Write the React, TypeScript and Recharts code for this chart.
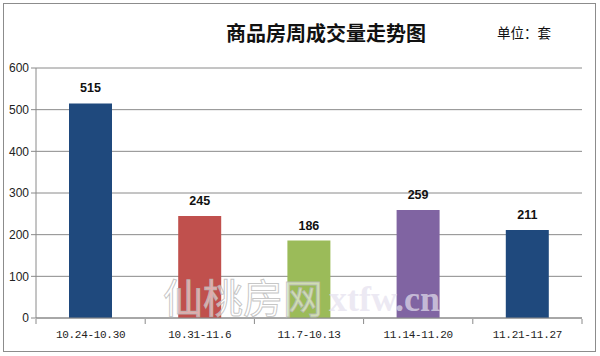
import React from 'react';
import { BarChart, Bar, XAxis, YAxis, CartesianGrid, Cell, LabelList } from 'recharts';

const categories = ['10.24-10.30', '10.31-11.6', '11.7-10.13', '11.14-11.20', '11.21-11.27'];
const volumes = [515, 245, 186, 259, 211];
const barColors = ['#1F497D', '#C0504D', '#9BBB59', '#8064A2', '#1F497D'];
const yTicks = [0, 100, 200, 300, 400, 500, 600];
const titleText = '商品房周成交量走势图';
const unitText = '单位：套';

const data = categories.map((name, i) => ({ name, value: volumes[i] }));

const AXIS_COLOR = '#8a8a8a';

const XTick = (props: any) => {
  const { x, y, payload, index } = props;
  const half = payload && typeof payload.offset === 'number' && payload.offset > 0 ? payload.offset : 54.6;
  const isLast = index === categories.length - 1;
  return (
    <g>
      <line x1={x - half} x2={x - half} y1={y - 7} y2={y - 2} stroke={AXIS_COLOR} strokeWidth={1} />
      {isLast && (
        <line x1={x + half} x2={x + half} y1={y - 7} y2={y - 2} stroke={AXIS_COLOR} strokeWidth={1} />
      )}
      <text
        x={x}
        y={y + 12}
        textAnchor="middle"
        fontFamily="'Liberation Mono', 'DejaVu Sans Mono', monospace"
        fontSize={11}
        letterSpacing={-0.3}
        fill="#222"
      >
        {payload.value}
      </text>
    </g>
  );
};

export default function App() {
  return (
    <div style={{ position: 'absolute', left: 0, top: 0, width: 600, height: 356, background: '#fff', overflow: 'hidden' }}>
      <div
        style={{
          position: 'absolute',
          left: 3,
          top: 3,
          width: 593,
          height: 349,
          border: '1px solid #8c8c8c',
          boxSizing: 'border-box',
        }}
      />
      <div
        style={{
          position: 'absolute',
          left: 176,
          top: 19,
          width: 300,
          textAlign: 'center',
          fontFamily: "'Noto Sans CJK SC', sans-serif",
          fontWeight: 700,
          fontSize: 20,
          lineHeight: '28px',
          color: '#111',
        }}
      >
        {titleText}
      </div>
      <div
        style={{
          position: 'absolute',
          left: 497,
          top: 23,
          fontFamily: "'Noto Sans CJK SC', sans-serif",
          fontSize: 13.5,
          lineHeight: '18px',
          color: '#111',
        }}
      >
        {unitText}
      </div>
      <div style={{ position: 'absolute', left: 0, top: 0 }}>
        <BarChart width={600} height={356} data={data} margin={{ top: 68, right: 18, bottom: 0, left: 0 }} barSize={43}>
          <CartesianGrid vertical={false} stroke={AXIS_COLOR} strokeDasharray="" />
          <XAxis
            dataKey="name"
            height={38}
            axisLine={{ stroke: AXIS_COLOR }}
            tickLine={false}
            tick={<XTick />}
            interval={0}
          />
          <YAxis
            width={36}
            domain={[0, 600]}
            ticks={yTicks}
            interval={0}
            axisLine={{ stroke: AXIS_COLOR }}
            tickLine={{ stroke: AXIS_COLOR }}
            tickSize={5}
            tick={{ fontFamily: "'Liberation Sans', Arial, sans-serif", fontSize: 12, fill: '#222' }}
          />
          <Bar dataKey="value" isAnimationActive={false}>
            {data.map((d, i) => (
              <Cell key={d.name} fill={barColors[i]} />
            ))}
            <LabelList
              dataKey="value"
              position="top"
              offset={11}
              style={{ fontFamily: "'Liberation Sans', Arial, sans-serif", fontWeight: 700, fontSize: 12.5, fill: '#111' }}
            />
          </Bar>
        </BarChart>
      </div>
      <svg width={600} height={356} style={{ position: 'absolute', left: 0, top: 0, pointerEvents: 'none' }}>
        <text
          x={163}
          y={313}
          fontFamily="'Noto Sans CJK SC', sans-serif"
          fontSize={40}
          fill="#ffffff"
          fillOpacity={0.55}
          stroke="#b8b8b8"
          strokeWidth={1}
          strokeOpacity={0.8}
        >
          仙桃房网
        </text>
        <text
          x={329}
          y={311}
          fontFamily="'Liberation Serif', serif"
          fontWeight={700}
          fontSize={36}
          fill="#e4e0ee"
          fillOpacity={0.7}
        >
          xtfw.cn
        </text>
      </svg>
    </div>
  );
}
